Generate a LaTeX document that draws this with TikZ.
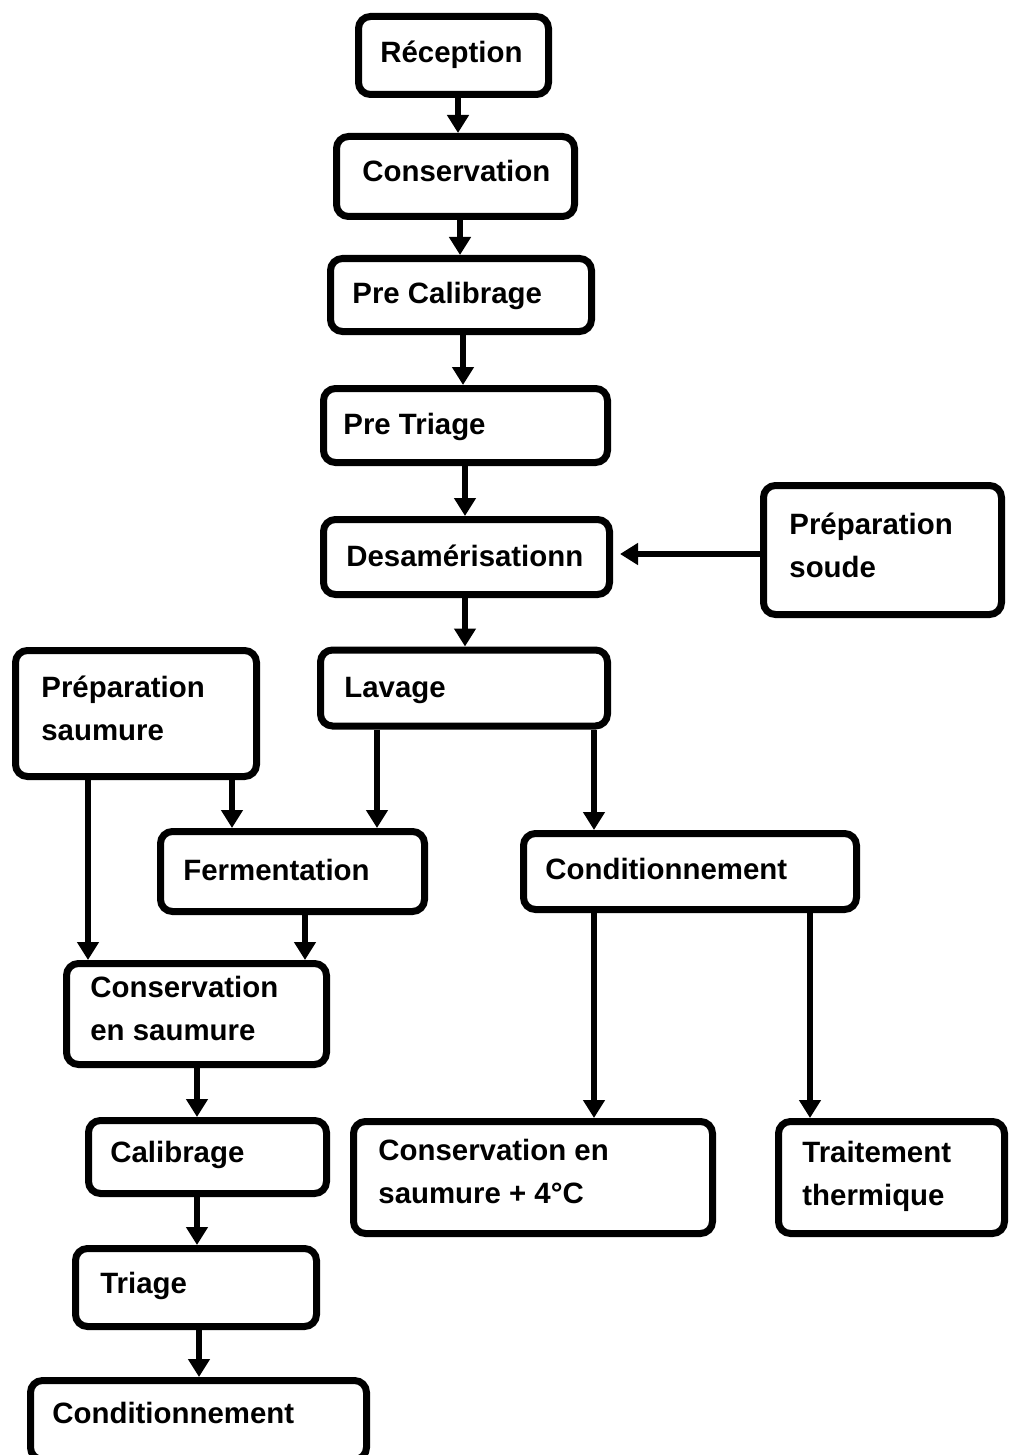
\documentclass[tikz,border=0pt]{standalone}
\usepackage{fontspec}
\setmainfont{Liberation Sans}
\usetikzlibrary{arrows.meta}
\begin{document}
\begin{tikzpicture}[x=0.5pt,y=-0.5pt,
  box/.style={draw=black, line width=3.5pt, rounded corners=6pt, inner sep=0pt, fill=white},
  lbl/.style={anchor=base west, inner sep=0pt, align=left, font=\fontsize{14.7}{21.5}\selectfont\bfseries},
  arr/.style={-{Triangle[width=10.5pt,length=9pt]}, line width=3.3pt, black}]
\useasboundingbox (0,0) rectangle (1008,1455);
% boxes
\node[box, minimum width=95pt, minimum height=39pt] (rec) at (453.5,55.5) {};
\node[box, minimum width=119pt, minimum height=40pt] (cons) at (455.5,176.5) {};
\node[box, minimum width=130.5pt, minimum height=36.5pt] (precal) at (461,295) {};
\node[box, minimum width=142pt, minimum height=37pt] (pretri) at (465.5,425.5) {};
\node[box, minimum width=143pt, minimum height=37.5pt] (desam) at (466.5,557) {};
\node[box, minimum width=119pt, minimum height=64.5pt] (soude) at (882.5,550) {};
\node[box, minimum width=143.5pt, minimum height=38pt] (lav) at (464,688) {};
\node[box, minimum width=120.5pt, minimum height=63pt] (psaum) at (136,713.5) {};
\node[box, minimum width=132pt, minimum height=40pt] (ferm) at (292.5,871.5) {};
\node[box, minimum width=166.5pt, minimum height=38pt] (condR) at (690,871.5) {};
\node[box, minimum width=130pt, minimum height=50.5pt] (conssaum) at (196.5,1014) {};
\node[box, minimum width=119pt, minimum height=36.5pt] (calib) at (207.5,1157) {};
\node[box, minimum width=179.5pt, minimum height=56pt] (cons4) at (533,1177.5) {};
\node[box, minimum width=113pt, minimum height=56pt] (trait) at (891.5,1177.5) {};
\node[box, minimum width=120.5pt, minimum height=39pt] (triage) at (196,1287.5) {};
\node[box, minimum width=168pt, minimum height=39.5pt] (condB) at (198.5,1420) {};
% labels
\node[lbl] (trec) at (380,63) {Réception};
\node[lbl] (tcons) at (362,182) {Conservation};
\node[lbl] (tprecal) at (352,303) {Pre Calibrage};
\node[lbl] (tpretri) at (343,434) {Pre Triage};
\node[lbl] (tdesam) at (346,566) {Desamérisationn};
\node[lbl] (tsoude) at (789,577) {Préparation\\soude};
\node[lbl] (tlav) at (344,697) {Lavage};
\node[lbl] (tpsaum) at (41,740) {Préparation\\saumure};
\node[lbl] (tferm) at (183,880) {Fermentation};
\node[lbl] (tcondR) at (545,879) {Conditionnement};
\node[lbl] (tconssaum) at (90,1040) {Conservation\\en saumure};
\node[lbl] (tcalib) at (110,1162) {Calibrage};
\node[lbl] (tcons4) at (378,1203) {Conservation en\\saumure + 4°C};
\node[lbl] (ttrait) at (802,1205) {Traitement\\thermique};
\node[lbl] (ttriage) at (100,1293) {Triage};
\node[lbl] (tcondB) at (52,1423) {Conditionnement};
% connectors
\draw[arr] (rec.south -| 458,0) -- (cons.north -| 458,0);
\draw[arr] (cons.south -| 460,0) -- (precal.north -| 460,0);
\draw[arr] (precal.south -| 463,0) -- (pretri.north -| 463,0);
\draw[arr] (pretri.south -| 465,0) -- (desam.north -| 465,0);
\draw[arr, shorten >=3.5pt] (soude.west |- 0,554) -- (desam.east |- 0,554);
\draw[arr] (desam.south -| 465,0) -- (lav.north -| 465,0);
\draw[arr] (lav.south -| 377,0) -- (ferm.north -| 377,0);
\draw[arr] (lav.south -| 594,0) -- (condR.north -| 594,0);
\draw[arr] (psaum.south -| 232,0) -- (ferm.north -| 232,0);
\draw[arr] (psaum.south -| 88,0) -- (conssaum.north -| 88,0);
\draw[arr] (ferm.south -| 305,0) -- (conssaum.north -| 305,0);
\draw[arr] (conssaum.south -| 197,0) -- (calib.north -| 197,0);
\draw[arr] (condR.south -| 594,0) -- (cons4.north -| 594,0);
\draw[arr] (condR.south -| 810,0) -- (trait.north -| 810,0);
\draw[arr] (calib.south -| 197,0) -- (triage.north -| 197,0);
\draw[arr] (triage.south -| 199,0) -- (condB.north -| 199,0);
\end{tikzpicture}
\end{document}
